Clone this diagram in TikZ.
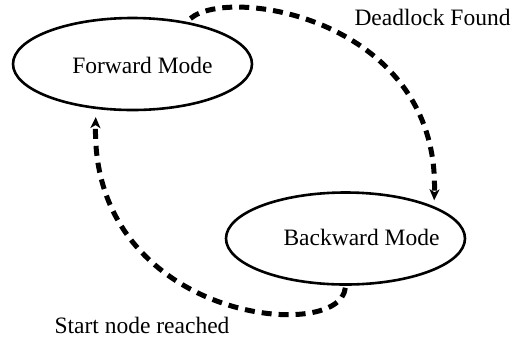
\documentclass[tikz,border=0pt]{standalone}
\usepackage{fontspec}
\setmainfont{Liberation Serif}
\usetikzlibrary{shapes.geometric,arrows.meta}
\tikzset{
  state/.style={ellipse, draw, line width=2.6pt, minimum width=239pt, minimum height=92pt, inner sep=0pt},
  txt/.style={font=\fontsize{23.5pt}{26pt}\selectfont, inner sep=0pt, anchor=base},
  flow/.style={line width=5pt, dash pattern=on 10pt off 7pt, -{Stealth[length=11pt,width=10pt,inset=3pt]}}
}
\begin{document}
\begin{tikzpicture}[x=1pt,y=-1pt]
\fill[white] (0,0) rectangle (516,341);
\useasboundingbox (0,0) rectangle (516,341);
\node[state] (fwd) at (132.5,64) {};
\node[state] (bwd) at (345.5,238.5) {};
\node[txt] (fwdtext) at (142.5,73) {Forward Mode};
\node[txt] (bwdtext) at (361.5,245) {Backward Mode};
\node[txt] (dl) at (432.5,25) {Deadlock Found};
\node[txt] (snr) at (142,333) {Start node reached};
\draw[flow, shorten <=5pt, shorten >=6pt] (fwd.38) .. controls (230,-15) and (440,20) .. (bwd.20);
\draw[flow, shorten <=2pt, shorten >=8pt] (bwd.south) .. controls (340,345) and (90,320) .. (fwd.231);
\end{tikzpicture}
\end{document}
